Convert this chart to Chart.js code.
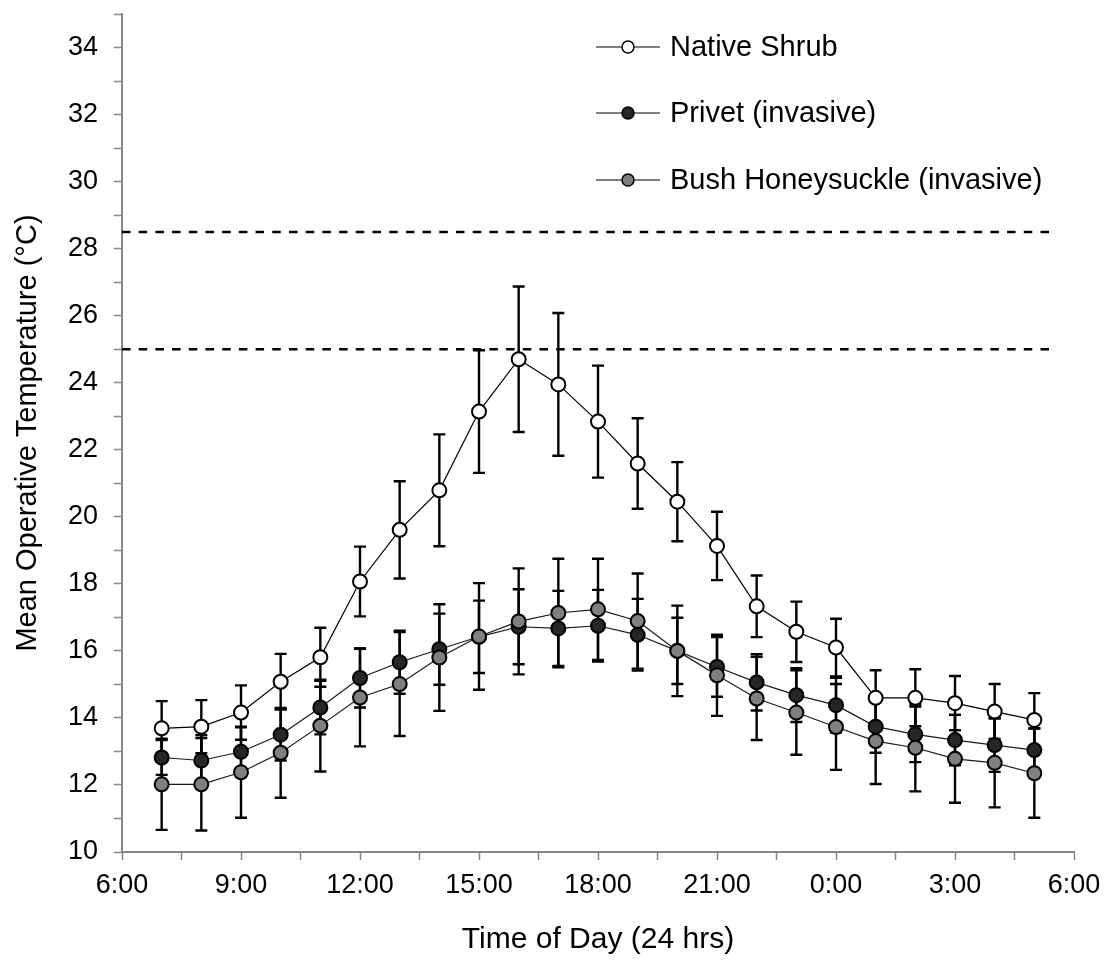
<!DOCTYPE html>
<html>
<head>
<meta charset="utf-8">
<script src="https://cdn.jsdelivr.net/npm/chart.js@4.4.1/dist/chart.umd.min.js"></script>
<style>
  html, body { margin: 0; padding: 0; background: #fff; }
  #wrap { width: 1106px; height: 964px; }
</style>
</head>
<body>
<div id="wrap"><canvas id="tempChart" width="1106" height="964"></canvas></div>
<script>
// Hours of day (7:00 .. 5:00 next day, counted past midnight as 24+)
const hours = [7, 8, 9, 10, 11, 12, 13, 14, 15, 16, 17, 18, 19, 20, 21, 22, 23, 24, 25, 26, 27, 28, 29];

const nativeShrub = [13.69, 13.74, 14.16, 15.08, 15.81, 18.07, 19.61, 20.79, 23.14, 24.70, 23.95, 22.84,
  21.59, 20.45, 19.13, 17.33, 16.57, 16.10, 14.60, 14.60, 14.44, 14.19, 13.94];
const nativeErr = [0.81, 0.79, 0.81, 0.83, 0.88, 1.04, 1.45, 1.67, 1.83, 2.17, 2.13, 1.67,
  1.35, 1.18, 1.02, 0.92, 0.90, 0.86, 0.82, 0.85, 0.81, 0.82, 0.80];

const privet = [12.82, 12.73, 12.99, 13.50, 14.31, 15.19, 15.66, 16.05, 16.42, 16.72, 16.67, 16.75,
  16.48, 16.00, 15.52, 15.06, 14.68, 14.38, 13.74, 13.51, 13.34, 13.19, 13.04];
const privetErr = [0.52, 0.76, 0.73, 0.77, 0.80, 0.88, 0.94, 1.06, 1.08, 1.12, 1.12, 1.07,
  1.07, 0.99, 0.89, 0.84, 0.80, 0.82, 0.78, 0.83, 0.75, 0.80, 0.65];

const honeysuckle = [12.02, 12.02, 12.38, 12.96, 13.77, 14.61, 15.01, 15.80, 16.43, 16.88, 17.13, 17.24,
  16.89, 16.00, 15.27, 14.58, 14.16, 13.73, 13.31, 13.11, 12.78, 12.66, 12.35];
const honeysuckleErr = [1.36, 1.38, 1.36, 1.34, 1.37, 1.46, 1.55, 1.59, 1.59, 1.58, 1.62, 1.51,
  1.42, 1.35, 1.21, 1.24, 1.26, 1.28, 1.28, 1.30, 1.31, 1.33, 1.33];

// Reference temperatures (dashed lines)
const thresholds = [25, 28.5];
const thresholdEnd = 29.55;

const xTickLabels = ["6:00", "9:00", "12:00", "15:00", "18:00", "21:00", "0:00", "3:00", "6:00"];

const FONT = "'Liberation Sans', Arial, sans-serif";
const AXIS_GREY = "#868686";

const toPoints = (vals) => hours.map((h, i) => ({ x: h, y: vals[i] }));

const errorSets = [nativeErr, privetErr, honeysuckleErr];

// Error bars and dashed reference lines, drawn under the series
const underlay = {
  id: "underlay",
  beforeDatasetsDraw(chart) {
    const { ctx, scales: { x, y } } = chart;
    ctx.save();
    ctx.strokeStyle = "#000";
    ctx.lineWidth = 2.5;
    ctx.setLineDash([8.5, 8.2]);
    thresholds.forEach((t) => {
      const py = y.getPixelForValue(t);
      ctx.beginPath();
      ctx.moveTo(x.left, py);
      ctx.lineTo(x.getPixelForValue(thresholdEnd), py);
      ctx.stroke();
    });
    ctx.setLineDash([]);
    ctx.lineWidth = 2.4;
    chart.data.datasets.forEach((ds, d) => {
      const errs = errorSets[d];
      ds.data.forEach((p, i) => {
        const px = x.getPixelForValue(p.x);
        const top = y.getPixelForValue(p.y + errs[i]);
        const bot = y.getPixelForValue(p.y - errs[i]);
        ctx.beginPath();
        ctx.moveTo(px, top);
        ctx.lineTo(px, bot);
        ctx.moveTo(px - 6, top);
        ctx.lineTo(px + 6, top);
        ctx.moveTo(px - 6, bot);
        ctx.lineTo(px + 6, bot);
        ctx.stroke();
      });
    });
    ctx.restore();
  },
};

// Legend in the upper right, line-marker-line style
const legendBox = {
  id: "legendBox",
  afterDraw(chart) {
    const { ctx } = chart;
    const rows = [47, 113, 180];
    ctx.save();
    chart.data.datasets.forEach((ds, i) => {
      const yy = rows[i];
      ctx.strokeStyle = "#000";
      ctx.lineWidth = 1;
      ctx.beginPath();
      ctx.moveTo(596, yy);
      ctx.lineTo(660, yy);
      ctx.stroke();
      ctx.beginPath();
      ctx.arc(628, yy, 6, 0, Math.PI * 2);
      ctx.fillStyle = ds.pointBackgroundColor;
      ctx.fill();
      ctx.lineWidth = 1.5;
      ctx.stroke();
      ctx.fillStyle = "#000";
      ctx.font = "29px " + FONT;
      ctx.textBaseline = "middle";
      ctx.textAlign = "left";
      ctx.fillText(ds.label, 670, yy + 1);
    });
    ctx.restore();
  },
};

const ctx = document.getElementById("tempChart").getContext("2d");
const tempChart = new Chart(ctx, {
  type: "line",
  data: {
    datasets: [
      {
        label: "Native Shrub",
        data: toPoints(nativeShrub),
        borderColor: "#000",
        borderWidth: 1.2,
        pointBackgroundColor: "#ffffff",
        pointBorderColor: "#000",
        pointBorderWidth: 2,
        pointRadius: 7,
        order: 3,
      },
      {
        label: "Privet (invasive)",
        data: toPoints(privet),
        borderColor: "#1a1a1a",
        borderWidth: 1.2,
        pointBackgroundColor: "#262626",
        pointBorderColor: "#000",
        pointBorderWidth: 2,
        pointRadius: 7,
        order: 2,
      },
      {
        label: "Bush Honeysuckle (invasive)",
        data: toPoints(honeysuckle),
        borderColor: "#1a1a1a",
        borderWidth: 1.2,
        pointBackgroundColor: "#808080",
        pointBorderColor: "#000",
        pointBorderWidth: 2,
        pointRadius: 7,
        order: 1,
      },
    ],
  },
  options: {
    responsive: false,
    animation: false,
    devicePixelRatio: 1,
    layout: { padding: { top: 14, right: 32, left: 0, bottom: 0 } },
    plugins: {
      legend: { display: false },
      tooltip: { enabled: false },
    },
    scales: {
      x: {
        type: "linear",
        min: 6,
        max: 30,
        afterFit(s) {
          s.height = 112;
          s.paddingLeft = 0;
          s.paddingRight = 0;
        },
        ticks: {
          stepSize: 1.5,
          autoSkip: false,
          maxRotation: 0,
          padding: 9,
          color: "#000",
          font: { family: FONT, size: 27 },
          callback: (v) => (v % 3 === 0 ? xTickLabels[(v - 6) / 3] : ""),
        },
        grid: {
          drawOnChartArea: false,
          drawTicks: true,
          tickLength: 8,
          tickWidth: 1.5,
          tickColor: AXIS_GREY,
        },
        border: { color: AXIS_GREY, width: 2 },
        title: {
          display: true,
          text: "Time of Day (24 hrs)",
          color: "#000",
          font: { family: FONT, size: 30 },
          padding: { top: 0, bottom: 6 },
        },
      },
      y: {
        min: 10,
        max: 35,
        afterFit(s) {
          s.width = 122;
          s.paddingTop = 0;
          s.paddingBottom = 0;
        },
        ticks: {
          stepSize: 1,
          autoSkip: false,
          padding: 16,
          color: "#000",
          font: { family: FONT, size: 27 },
          callback: (v) => (v % 2 === 0 ? String(v) : ""),
        },
        grid: {
          drawOnChartArea: false,
          drawTicks: true,
          tickLength: 8,
          tickWidth: 1.5,
          tickColor: AXIS_GREY,
        },
        border: { color: AXIS_GREY, width: 2 },
        title: {
          display: true,
          text: "Mean Operative Temperature (°C)",
          color: "#000",
          font: { family: FONT, size: 29 },
          padding: { top: 11, bottom: 0 },
        },
      },
    },
  },
  plugins: [underlay, legendBox],
});
</script>
</body>
</html>
